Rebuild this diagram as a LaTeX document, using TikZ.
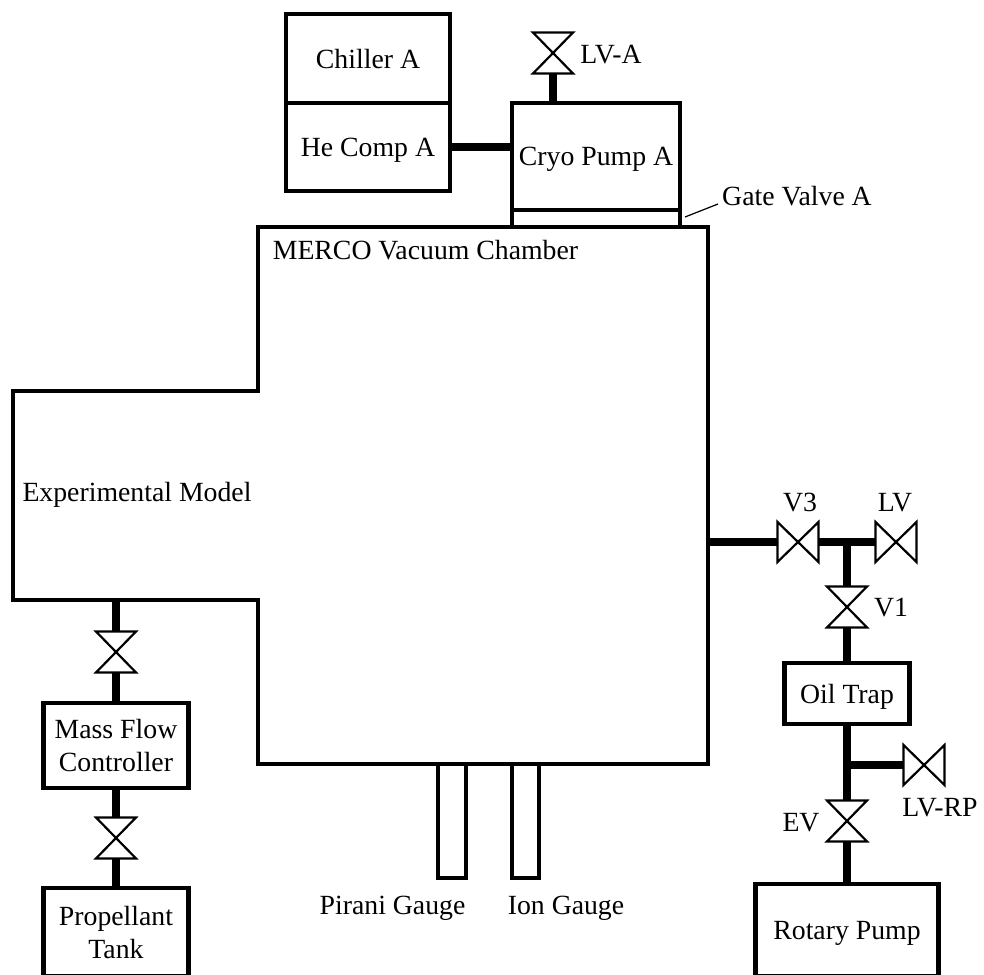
\documentclass[tikz,border=0pt]{standalone}
\usepackage{fontspec}
\setmainfont{Liberation Serif}
\usetikzlibrary{positioning}
\tikzset{every node/.style={font=\fontsize{15.8}{18.8}\selectfont,align=center,inner sep=0pt,outer sep=0pt,text depth=0pt},
	unit/.style={draw,line width=2.6pt,rectangle},
	wall/.style={draw,line width=2.7pt,line join=miter},
	pipe/.style={draw,line width=4.8pt},
	valve/.style={minimum width=0.8cm,minimum height=0.82cm},
	bowtie/.style={draw,line width=1.25pt,fill=white},
	leader/.style={draw,line width=0.7pt}}

\begin{document}
\begin{tikzpicture}[x=0.02cm,y=-0.02cm,on grid,node distance=2cm]
			\clip[use as bounding box] (0,0) rectangle (984,974);
			% vacuum chamber
			\draw[wall] (258,227) -- (708,227) -- (708,764) -- (258,764) -- (258,600) -- (13,600) -- (13,391) -- (258,391) -- cycle;
			\coordinate (portR) at (708,542);
			\coordinate (portL) at (116,600);
			\node (merco) at (425.5,250) {MERCO Vacuum Chamber};
			\node (model) at (137,491.5) {Experimental Model};
			% cryo pump side
			\node[unit,minimum width=3.28cm,minimum height=1.78cm] (chiller) at (368,58.5) {Chiller A};
			\node[unit,minimum width=3.28cm,minimum height=1.76cm] (hecomp) [below=1.77cm of chiller] {He Comp A};
			\node[unit,minimum width=3.36cm,minimum height=2.14cm] (cryo) at (596,156.5) {Cryo Pump A};
			\node[unit,minimum width=3.36cm,minimum height=0.34cm] (gate) [below=1.24cm of cryo] {};
			\node[valve] (lva) at (553,53) {};
			\node (lvalabel) at (611,54) {LV-A};
			\node (gatelabel) at (797,196) {Gate Valve A};
			\coordinate (gatetip) at (685,217);
			\coordinate (gatefoot) at (718,204);
			\path[leader] (gatetip) -- (gatefoot);
			% roughing line
			\node[valve,minimum width=0.82cm,minimum height=0.8cm] (vthree) at (798,542) {};
			\node[valve,minimum width=0.82cm,minimum height=0.8cm] (lv) [right=1.96cm of vthree] {};
			\node[valve] (vone) at (847,607) {};
			\node[unit,minimum width=2.5cm,minimum height=1.22cm] (trap) [below=1.73cm of vone] {Oil Trap};
			\node[valve] (ev) [below=2.55cm of trap] {};
			\node[valve,minimum width=0.82cm,minimum height=0.8cm] (lvrp) at (924,765) {};
			\node[unit,minimum width=3.66cm,minimum height=1.84cm] (rotary) at (847,930) {Rotary Pump};
			\node (vthreelabel) at (800,502) {V3};
			\node (lvlabel) at (895,502) {LV};
			\node (vonelabel) at (891,607.5) {V1};
			\node (evlabel) at (801,822) {EV};
			\node (lvrplabel) at (940,807) {LV-RP};
			\coordinate (tee) at (vthree -| vone);
			\coordinate (branch) at (lvrp -| trap);
			% propellant feed
			\node[valve] (feedA) at (116,652) {};
			\node[unit,minimum width=2.9cm,minimum height=1.7cm] (mfc) [below=1.87cm of feedA] {Mass Flow\\Controller};
			\node[valve] (feedB) [below=1.85cm of mfc] {};
			\node[unit,minimum width=2.9cm,minimum height=1.76cm] (tank) at (116,932) {Propellant\\Tank};
			% gauges
			\node[unit,minimum width=0.56cm,minimum height=2.28cm] (pirani) at (452,821) {};
			\node[unit,minimum width=0.54cm,minimum height=2.28cm] (ion) at (525.5,821) {};
			\node (piranilabel) at (392.5,905.5) {Pirani Gauge};
			\node (ionlabel) at (566,905.5) {Ion Gauge};
			\path[pipe]
			(hecomp.east) -- (hecomp.east -| cryo.west)
			(lva.south) -- (lva |- cryo.north)
			(portR) -- (vthree.west)
			(vthree.east) -- (lv.west)
			(tee) -- (vone.north)
			(vone.south) -- (trap.north)
			(trap.south) -- (ev.north)
			(branch) -- (lvrp.west)
			(ev.south) -- (rotary.north)
			(portL) -- (feedA.north)
			(feedA.south) -- (mfc.north)
			(mfc.south) -- (feedB.north)
			(feedB.south) -- (tank.north);
			\foreach \v in {lva,vone,ev,feedA,feedB}
				\path[bowtie] (\v.north west) -- (\v.north east) -- (\v.south west) -- (\v.south east) -- cycle;
			\foreach \v in {vthree,lv,lvrp}
				\path[bowtie] (\v.north west) -- (\v.south west) -- (\v.north east) -- (\v.south east) -- cycle;
		\end{tikzpicture}
\end{document}
